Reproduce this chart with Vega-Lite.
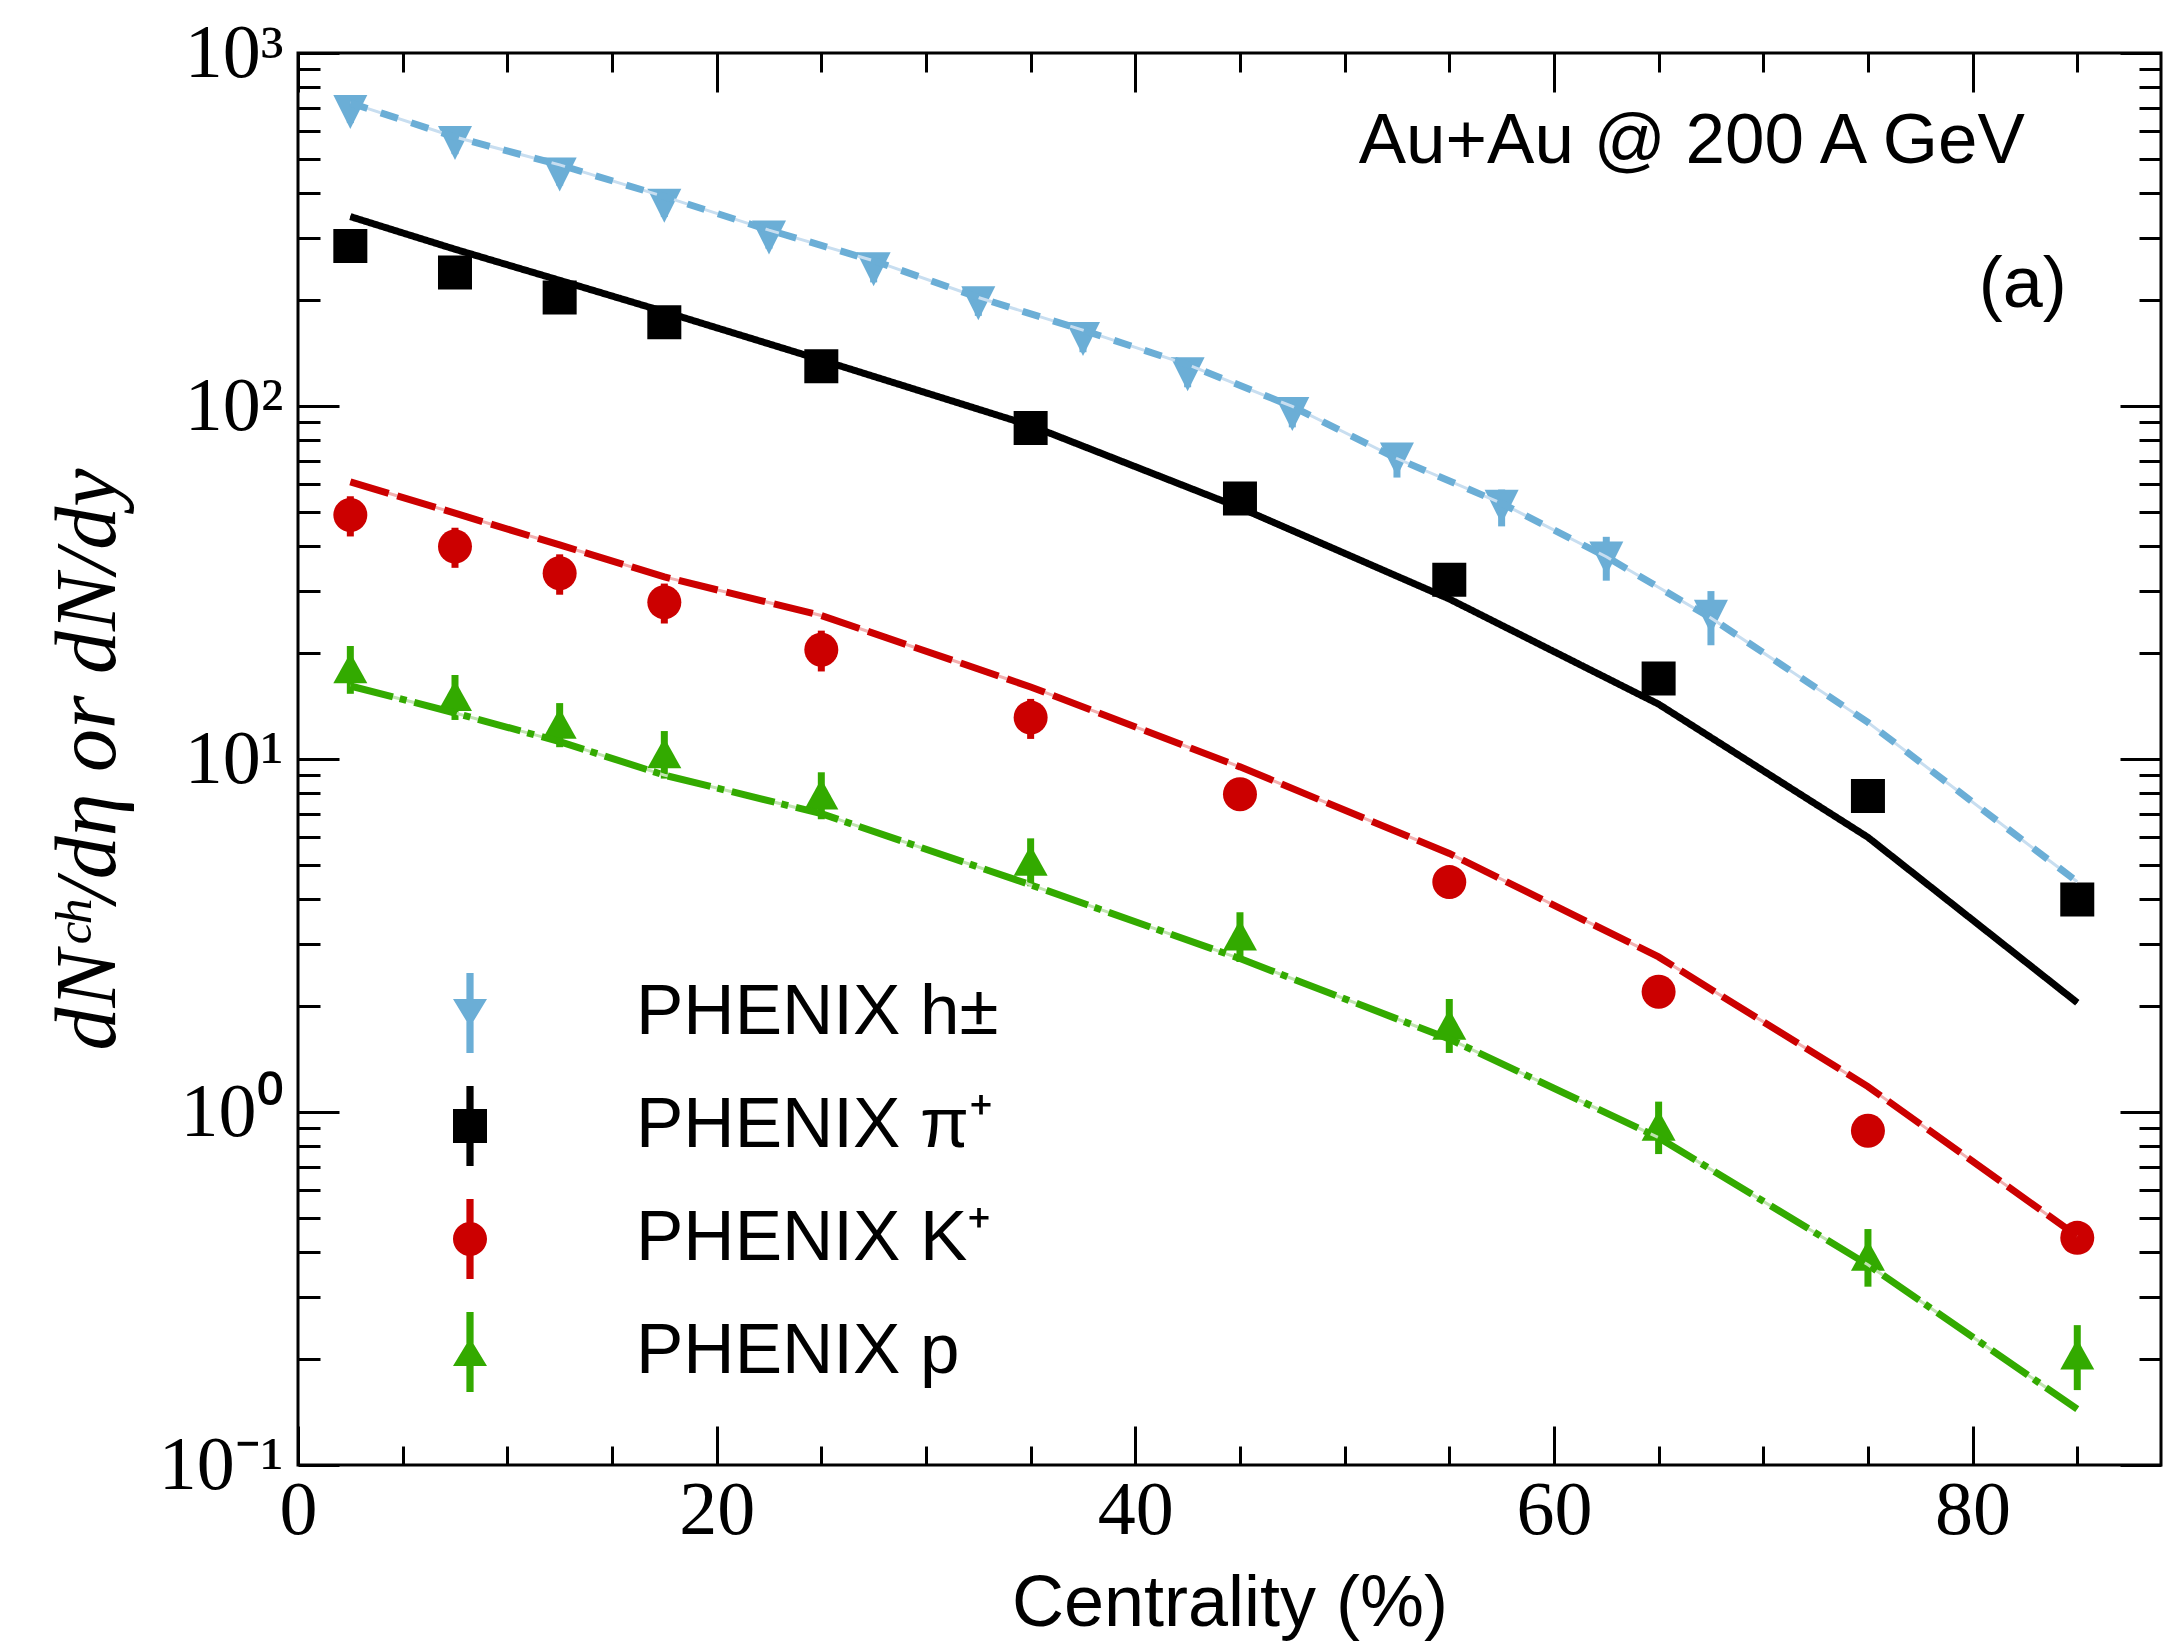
{
  "$schema": "https://vega.github.io/schema/vega-lite/v6.json",
  "width": 1863,
  "height": 1412,
  "autosize": {"type": "none"},
  "padding": {"left": 298, "top": 53, "right": 6, "bottom": 181},
  "background": "white",
  "config": {
    "view": {"stroke": "black", "strokeWidth": 3},
    "axis": {"grid": false, "labelFlush": false, "labelOverlap": false, "labelColor": "black", "titleColor": "black", "tickColor": "black", "tickWidth": 3, "domain": false, "titleFontWeight": "normal"}
  },
  "datasets": {
    "pts": [
      {"series": "PHENIX h±", "cent": 2.5, "val": 681, "lo": 633, "hi": 729},
      {"series": "PHENIX h±", "cent": 7.5, "val": 556, "lo": 517, "hi": 595},
      {"series": "PHENIX h±", "cent": 12.5, "val": 453, "lo": 421, "hi": 485},
      {"series": "PHENIX h±", "cent": 17.5, "val": 369, "lo": 343, "hi": 395},
      {"series": "PHENIX h±", "cent": 22.5, "val": 300, "lo": 279, "hi": 321},
      {"series": "PHENIX h±", "cent": 27.5, "val": 244, "lo": 224, "hi": 264},
      {"series": "PHENIX h±", "cent": 32.5, "val": 195.6, "lo": 180, "hi": 211},
      {"series": "PHENIX h±", "cent": 37.5, "val": 154.7, "lo": 142, "hi": 167},
      {"series": "PHENIX h±", "cent": 42.5, "val": 123, "lo": 113, "hi": 133},
      {"series": "PHENIX h±", "cent": 47.5, "val": 94.9, "lo": 87, "hi": 103},
      {"series": "PHENIX h±", "cent": 52.5, "val": 70.5, "lo": 62.7, "hi": 78.3},
      {"series": "PHENIX h±", "cent": 57.5, "val": 51.8, "lo": 45.6, "hi": 58},
      {"series": "PHENIX h±", "cent": 62.5, "val": 37.0, "lo": 32, "hi": 42.6},
      {"series": "PHENIX h±", "cent": 67.5, "val": 25.3, "lo": 21, "hi": 29.9},
      {"series": "PHENIX π⁺", "cent": 2.5, "val": 284, "lo": 261, "hi": 307},
      {"series": "PHENIX π⁺", "cent": 7.5, "val": 239, "lo": 220, "hi": 258},
      {"series": "PHENIX π⁺", "cent": 12.5, "val": 203, "lo": 187, "hi": 219},
      {"series": "PHENIX π⁺", "cent": 17.5, "val": 172.6, "lo": 159, "hi": 186},
      {"series": "PHENIX π⁺", "cent": 25, "val": 129.6, "lo": 119, "hi": 140},
      {"series": "PHENIX π⁺", "cent": 35, "val": 86.6, "lo": 80, "hi": 94},
      {"series": "PHENIX π⁺", "cent": 45, "val": 54.7, "lo": 50.3, "hi": 59.1},
      {"series": "PHENIX π⁺", "cent": 55, "val": 32.2, "lo": 29.6, "hi": 34.8},
      {"series": "PHENIX π⁺", "cent": 65, "val": 16.9, "lo": 15.5, "hi": 18.3},
      {"series": "PHENIX π⁺", "cent": 75, "val": 7.86, "lo": 7.2, "hi": 8.5},
      {"series": "PHENIX π⁺", "cent": 85, "val": 4.0, "lo": 3.7, "hi": 4.3},
      {"series": "PHENIX K⁺", "cent": 2.5, "val": 49.1, "lo": 42.7, "hi": 55.5},
      {"series": "PHENIX K⁺", "cent": 7.5, "val": 40.0, "lo": 34.8, "hi": 45.2},
      {"series": "PHENIX K⁺", "cent": 12.5, "val": 33.6, "lo": 29.2, "hi": 38.0},
      {"series": "PHENIX K⁺", "cent": 17.5, "val": 27.8, "lo": 24.2, "hi": 31.4},
      {"series": "PHENIX K⁺", "cent": 25, "val": 20.4, "lo": 17.7, "hi": 23.1},
      {"series": "PHENIX K⁺", "cent": 35, "val": 13.1, "lo": 11.4, "hi": 14.8},
      {"series": "PHENIX K⁺", "cent": 45, "val": 7.95, "lo": 7.15, "hi": 8.75},
      {"series": "PHENIX K⁺", "cent": 55, "val": 4.48, "lo": 4.03, "hi": 4.93},
      {"series": "PHENIX K⁺", "cent": 65, "val": 2.19, "lo": 1.97, "hi": 2.41},
      {"series": "PHENIX K⁺", "cent": 75, "val": 0.885, "lo": 0.8, "hi": 0.97},
      {"series": "PHENIX K⁺", "cent": 85, "val": 0.44, "lo": 0.4, "hi": 0.48},
      {"series": "PHENIX p", "cent": 2.5, "val": 18.1, "lo": 15.3, "hi": 20.9},
      {"series": "PHENIX p", "cent": 7.5, "val": 15.1, "lo": 12.9, "hi": 17.3},
      {"series": "PHENIX p", "cent": 12.5, "val": 12.6, "lo": 10.8, "hi": 14.4},
      {"series": "PHENIX p", "cent": 17.5, "val": 10.4, "lo": 8.8, "hi": 12.0},
      {"series": "PHENIX p", "cent": 25, "val": 7.95, "lo": 6.75, "hi": 9.17},
      {"series": "PHENIX p", "cent": 35, "val": 5.16, "lo": 4.36, "hi": 5.96},
      {"series": "PHENIX p", "cent": 45, "val": 3.17, "lo": 2.66, "hi": 3.68},
      {"series": "PHENIX p", "cent": 55, "val": 1.77, "lo": 1.47, "hi": 2.09},
      {"series": "PHENIX p", "cent": 65, "val": 0.916, "lo": 0.76, "hi": 1.07},
      {"series": "PHENIX p", "cent": 75, "val": 0.392, "lo": 0.32, "hi": 0.466},
      {"series": "PHENIX p", "cent": 85, "val": 0.206, "lo": 0.163, "hi": 0.249}
    ],
    "model": [
      {"series": "PHENIX h±", "cent": 2.5, "val": 722},
      {"series": "PHENIX h±", "cent": 7.5, "val": 578},
      {"series": "PHENIX h±", "cent": 12.5, "val": 482},
      {"series": "PHENIX h±", "cent": 17.5, "val": 392},
      {"series": "PHENIX h±", "cent": 22.5, "val": 315},
      {"series": "PHENIX h±", "cent": 27.5, "val": 258},
      {"series": "PHENIX h±", "cent": 32.5, "val": 203},
      {"series": "PHENIX h±", "cent": 37.5, "val": 164},
      {"series": "PHENIX h±", "cent": 42.5, "val": 131},
      {"series": "PHENIX h±", "cent": 47.5, "val": 99.7},
      {"series": "PHENIX h±", "cent": 52.5, "val": 71},
      {"series": "PHENIX h±", "cent": 57.5, "val": 53},
      {"series": "PHENIX h±", "cent": 62.5, "val": 37.4},
      {"series": "PHENIX h±", "cent": 67.5, "val": 25.1},
      {"series": "PHENIX h±", "cent": 75, "val": 12.7},
      {"series": "PHENIX h±", "cent": 85, "val": 4.49},
      {"series": "PHENIX π⁺", "cent": 2.5, "val": 344},
      {"series": "PHENIX π⁺", "cent": 7.5, "val": 278},
      {"series": "PHENIX π⁺", "cent": 12.5, "val": 227},
      {"series": "PHENIX π⁺", "cent": 17.5, "val": 185},
      {"series": "PHENIX π⁺", "cent": 25, "val": 135},
      {"series": "PHENIX π⁺", "cent": 35, "val": 88},
      {"series": "PHENIX π⁺", "cent": 45, "val": 51.5},
      {"series": "PHENIX π⁺", "cent": 55, "val": 28.4},
      {"series": "PHENIX π⁺", "cent": 65, "val": 14.3},
      {"series": "PHENIX π⁺", "cent": 75, "val": 6.0},
      {"series": "PHENIX π⁺", "cent": 85, "val": 2.04},
      {"series": "PHENIX K⁺", "cent": 2.5, "val": 61},
      {"series": "PHENIX K⁺", "cent": 7.5, "val": 49.7},
      {"series": "PHENIX K⁺", "cent": 12.5, "val": 40.4},
      {"series": "PHENIX K⁺", "cent": 17.5, "val": 32.8},
      {"series": "PHENIX K⁺", "cent": 25, "val": 25.5},
      {"series": "PHENIX K⁺", "cent": 35, "val": 16.0},
      {"series": "PHENIX K⁺", "cent": 45, "val": 9.5},
      {"series": "PHENIX K⁺", "cent": 55, "val": 5.4},
      {"series": "PHENIX K⁺", "cent": 65, "val": 2.75},
      {"series": "PHENIX K⁺", "cent": 75, "val": 1.18},
      {"series": "PHENIX K⁺", "cent": 85, "val": 0.445},
      {"series": "PHENIX p", "cent": 2.5, "val": 16.1},
      {"series": "PHENIX p", "cent": 7.5, "val": 13.5},
      {"series": "PHENIX p", "cent": 12.5, "val": 11.2},
      {"series": "PHENIX p", "cent": 17.5, "val": 9.0},
      {"series": "PHENIX p", "cent": 25, "val": 7.0},
      {"series": "PHENIX p", "cent": 35, "val": 4.4},
      {"series": "PHENIX p", "cent": 45, "val": 2.72},
      {"series": "PHENIX p", "cent": 55, "val": 1.61},
      {"series": "PHENIX p", "cent": 65, "val": 0.846},
      {"series": "PHENIX p", "cent": 75, "val": 0.369},
      {"series": "PHENIX p", "cent": 85, "val": 0.144}
    ]
  },
  "resolve": {
    "scale": {"shape": "independent", "color": "independent", "strokeDash": "independent"},
    "axis": {"x": "independent", "y": "independent"}
  },
  "layer": [
    {
      "data": {"name": "model"},
      "mark": {"type": "point", "opacity": 0},
      "encoding": {
        "x": {"field": "cent", "type": "quantitative", "scale": {"domain": [0, 89], "nice": false, "zero": false},
          "axis": {"orient": "bottom", "values": [0, 20, 40, 60, 80], "ticks": false, "labelFont": "Liberation Serif", "labelFontSize": 76, "labelPadding": 8, "title": "Centrality (%)", "titleFont": "Liberation Sans", "titleFontSize": 72, "titlePadding": 20}},
        "y": {"field": "val", "type": "quantitative", "scale": {"type": "log", "domain": [0.1, 1000], "nice": false},
          "axis": {"orient": "left", "values": [0.1, 1, 10, 100, 1000], "ticks": false, "labelFont": "Liberation Serif", "labelFontSize": 76, "labelPadding": 15,
            "labelExpr": "datum.value >= 999 ? '10³' : datum.value >= 99 ? '10²' : datum.value >= 9 ? '10¹' : datum.value >= 0.9 ? '10⁰' : '10⁻¹'",
            "title": "dNᶜʰ/dη or dN/dy", "titleFont": "Liberation Serif", "titleFontStyle": "italic", "titleFontSize": 86, "titlePadding": 26}}
      }
    },
    {
      "data": {"name": "model"},
      "mark": {"type": "point", "opacity": 0},
      "encoding": {
        "x": {"field": "cent", "type": "quantitative", "scale": {"domain": [0, 89], "nice": false, "zero": false},
          "axis": {"orient": "bottom", "values": [0, 20, 40, 60, 80], "labels": false, "tickSize": -39, "title": null}},
        "y": {"field": "val", "type": "quantitative", "scale": {"type": "log", "domain": [0.1, 1000], "nice": false},
          "axis": {"orient": "left", "values": [0.1, 1, 10, 100, 1000], "labels": false, "tickSize": -41, "title": null}}
      }
    },
    {
      "data": {"name": "model"},
      "mark": {"type": "point", "opacity": 0},
      "encoding": {
        "x": {"field": "cent", "type": "quantitative", "scale": {"domain": [0, 89], "nice": false, "zero": false},
          "axis": {"orient": "bottom", "values": [5, 10, 15, 25, 30, 35, 45, 50, 55, 65, 70, 75, 85], "labels": false, "tickSize": -19, "title": null}},
        "y": {"field": "val", "type": "quantitative", "scale": {"type": "log", "domain": [0.1, 1000], "nice": false},
          "axis": {"orient": "left", "values": [0.2, 0.3, 0.4, 0.5, 0.6, 0.7, 0.8, 0.9, 2, 3, 4, 5, 6, 7, 8, 9, 20, 30, 40, 50, 60, 70, 80, 90, 200, 300, 400, 500, 600, 700, 800, 900], "labels": false, "tickSize": -22, "title": null}}
      }
    },
    {
      "data": {"name": "model"},
      "mark": {"type": "point", "opacity": 0},
      "encoding": {
        "x": {"field": "cent", "type": "quantitative", "scale": {"domain": [0, 89], "nice": false, "zero": false},
          "axis": {"orient": "top", "values": [0, 20, 40, 60, 80], "labels": false, "tickSize": -39, "title": null}},
        "y": {"field": "val", "type": "quantitative", "scale": {"type": "log", "domain": [0.1, 1000], "nice": false},
          "axis": {"orient": "right", "values": [0.1, 1, 10, 100, 1000], "labels": false, "tickSize": -41, "title": null}}
      }
    },
    {
      "data": {"name": "model"},
      "mark": {"type": "point", "opacity": 0},
      "encoding": {
        "x": {"field": "cent", "type": "quantitative", "scale": {"domain": [0, 89], "nice": false, "zero": false},
          "axis": {"orient": "top", "values": [5, 10, 15, 25, 30, 35, 45, 50, 55, 65, 70, 75, 85], "labels": false, "tickSize": -19, "title": null}},
        "y": {"field": "val", "type": "quantitative", "scale": {"type": "log", "domain": [0.1, 1000], "nice": false},
          "axis": {"orient": "right", "values": [0.2, 0.3, 0.4, 0.5, 0.6, 0.7, 0.8, 0.9, 2, 3, 4, 5, 6, 7, 8, 9, 20, 30, 40, 50, 60, 70, 80, 90, 200, 300, 400, 500, 600, 700, 800, 900], "labels": false, "tickSize": -22, "title": null}}
      }
    },
    {
      "data": {"name": "pts"},
      "mark": {"type": "rule", "strokeWidth": 7},
      "encoding": {
        "x": {"field": "cent", "type": "quantitative", "scale": {"domain": [0, 89], "nice": false, "zero": false}, "axis": null},
        "y": {"field": "lo", "type": "quantitative", "scale": {"type": "log", "domain": [0.1, 1000], "nice": false}, "axis": null},
        "y2": {"field": "hi"},
        "color": {"field": "series", "type": "nominal", "scale": {"domain": ["PHENIX h±", "PHENIX π⁺", "PHENIX K⁺", "PHENIX p"], "range": ["#6baed6", "#000000", "#cc0000", "#33aa00"]}, "legend": null}
      }
    },
    {
      "data": {"name": "pts"},
      "mark": {"type": "point", "filled": true, "opacity": 1, "size": 1156, "strokeWidth": 0},
      "encoding": {
        "x": {"field": "cent", "type": "quantitative", "scale": {"domain": [0, 89], "nice": false, "zero": false}, "axis": null},
        "y": {"field": "val", "type": "quantitative", "scale": {"type": "log", "domain": [0.1, 1000], "nice": false}, "axis": null},
        "color": {"field": "series", "type": "nominal", "scale": {"domain": ["PHENIX h±", "PHENIX π⁺", "PHENIX K⁺", "PHENIX p"], "range": ["#6baed6", "#000000", "#cc0000", "#33aa00"]}, "legend": null},
        "shape": {"field": "series", "type": "nominal", "scale": {"domain": ["PHENIX h±", "PHENIX π⁺", "PHENIX K⁺", "PHENIX p"], "range": ["M-1,-1L1,-1L0,1Z", "square", "circle", "M0,-0.9L1,0.9L-1,0.9Z"]}, "legend": null}
      }
    },
    {
      "data": {"name": "model"},
      "mark": {"type": "line", "strokeWidth": 3},
      "encoding": {
        "x": {"field": "cent", "type": "quantitative", "scale": {"domain": [0, 89], "nice": false, "zero": false}, "axis": null},
        "y": {"field": "val", "type": "quantitative", "scale": {"type": "log", "domain": [0.1, 1000], "nice": false}, "axis": null},
        "color": {"field": "series", "type": "nominal", "scale": {"domain": ["PHENIX h±", "PHENIX π⁺", "PHENIX K⁺", "PHENIX p"], "range": ["#c8def0", "#000000", "#f2b0b0", "#c0e4b0"]}, "legend": null}
      }
    },
    {
      "data": {"name": "model"},
      "mark": {"type": "line", "strokeWidth": 7, "strokeCap": "butt"},
      "encoding": {
        "x": {"field": "cent", "type": "quantitative", "scale": {"domain": [0, 89], "nice": false, "zero": false}, "axis": null},
        "y": {"field": "val", "type": "quantitative", "scale": {"type": "log", "domain": [0.1, 1000], "nice": false}, "axis": null},
        "color": {"field": "series", "type": "nominal", "scale": {"domain": ["PHENIX h±", "PHENIX π⁺", "PHENIX K⁺", "PHENIX p"], "range": ["#6baed6", "#000000", "#cc0000", "#33aa00"]}, "legend": null},
        "strokeDash": {"field": "series", "type": "nominal", "scale": {"domain": ["PHENIX h±", "PHENIX π⁺", "PHENIX K⁺", "PHENIX p"], "range": [[18, 14], [1, 0], [40, 9], [44, 7, 7, 8]]}, "legend": null}
      }
    },
    {
      "data": {"name": "pts"},
      "mark": {"type": "point", "filled": true, "opacity": 0},
      "encoding": {
        "x": {"field": "cent", "type": "quantitative", "scale": {"domain": [0, 89], "nice": false, "zero": false}, "axis": null},
        "y": {"field": "val", "type": "quantitative", "scale": {"type": "log", "domain": [0.1, 1000], "nice": false}, "axis": null},
        "color": {"field": "series", "type": "nominal", "scale": {"domain": ["PHENIX h±", "PHENIX π⁺", "PHENIX K⁺", "PHENIX p"], "range": ["#6baed6", "#000000", "#cc0000", "#33aa00"]},
          "legend": {"orient": "none", "legendX": 132, "legendY": 920, "title": null, "padding": 0, "offset": 0, "rowPadding": 33, "labelOffset": 126, "symbolSize": 6400, "symbolOpacity": 1, "symbolStrokeWidth": 0, "labelFont": "Liberation Sans", "labelFontSize": 71, "labelColor": "black", "labelLimit": 0}},
        "shape": {"field": "series", "type": "nominal", "scale": {"domain": ["PHENIX h±", "PHENIX π⁺", "PHENIX K⁺", "PHENIX p"], "range": [
            "M-0.425,-0.35L0.425,-0.35L0,0.35Z M-0.09,-1L0.09,-1L0.09,1L-0.09,1Z",
            "M-0.425,-0.425L0.425,-0.425L0.425,0.425L-0.425,0.425Z M-0.09,-1L0.09,-1L0.09,1L-0.09,1Z",
            "M-0.425,0A0.425,0.425,0,1,1,0.425,0A0.425,0.425,0,1,1,-0.425,0Z M-0.09,-1L0.09,-1L0.09,1L-0.09,1Z",
            "M0,-0.35L0.425,0.35L-0.425,0.35Z M-0.09,-1L0.09,-1L0.09,1L-0.09,1Z"]},
          "legend": {"orient": "none", "legendX": 132, "legendY": 920, "title": null, "padding": 0, "offset": 0, "rowPadding": 33, "labelOffset": 126, "symbolSize": 6400, "symbolOpacity": 1, "symbolStrokeWidth": 0, "labelFont": "Liberation Sans", "labelFontSize": 71, "labelColor": "black", "labelLimit": 0}}
      }
    },
    {
      "data": {"values": [{}]},
      "mark": {"type": "text", "font": "Liberation Sans", "fontSize": 71, "align": "right", "baseline": "alphabetic", "color": "black"},
      "encoding": {
        "x": {"datum": 82.5, "type": "quantitative", "scale": {"domain": [0, 89], "nice": false, "zero": false}, "axis": null},
        "y": {"datum": 488, "type": "quantitative", "scale": {"type": "log", "domain": [0.1, 1000], "nice": false}, "axis": null},
        "text": {"value": "Au+Au @ 200 A GeV"}
      }
    },
    {
      "data": {"values": [{}]},
      "mark": {"type": "text", "font": "Liberation Sans", "fontSize": 72, "align": "right", "baseline": "alphabetic", "color": "black"},
      "encoding": {
        "x": {"datum": 84.5, "type": "quantitative", "scale": {"domain": [0, 89], "nice": false, "zero": false}, "axis": null},
        "y": {"datum": 191, "type": "quantitative", "scale": {"type": "log", "domain": [0.1, 1000], "nice": false}, "axis": null},
        "text": {"value": "(a)"}
      }
    }
  ]
}
